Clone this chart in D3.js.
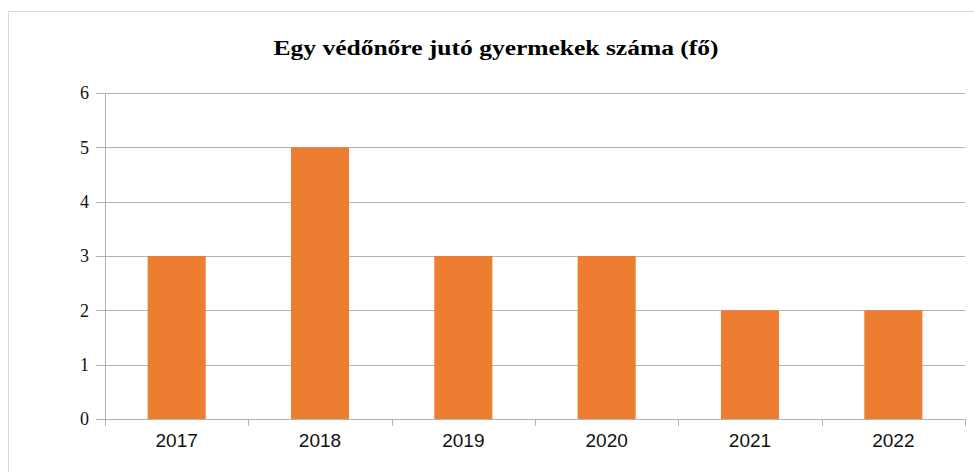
<!DOCTYPE html>
<html>
<head>
<meta charset="utf-8">
<script src="https://cdn.jsdelivr.net/npm/d3@7"></script>
<style>
    body { margin: 0; background: #fff; }
    svg { display: block; }
</style>
</head>
<body>
<div id="chart"></div>
<script>
// Chart data
const title = "Egy védőnőre jutó gyermekek száma (fő)";
const years = ["2017", "2018", "2019", "2020", "2021", "2022"];
const values = [3, 5, 3, 3, 2, 2];
const yTicks = [0, 1, 2, 3, 4, 5, 6];

const width = 974, height = 472;
const margin = { top: 93, right: 9, bottom: 53, left: 105 };
const innerW = width - margin.left - margin.right;
const innerH = height - margin.top - margin.bottom;

const svg = d3.select("#chart")
    .append("svg")
    .attr("width", width)
    .attr("height", height);

// Outer chart frame
svg.append("rect")
    .attr("x", 8.5)
    .attr("y", 11.5)
    .attr("width", 1000)
    .attr("height", 1000)
    .attr("fill", "none")
    .attr("stroke", "#d9d9d9");

// Title (stretched horizontally like the original)
svg.append("text")
    .attr("x", 496)
    .attr("y", 55)
    .attr("text-anchor", "middle")
    .attr("textLength", 445)
    .attr("lengthAdjust", "spacingAndGlyphs")
    .style("font-family", "'Liberation Serif', 'Times New Roman', serif")
    .style("font-weight", "bold")
    .style("font-size", "20px")
    .text(title);

const g = svg.append("g")
    .attr("transform", `translate(${margin.left},${margin.top})`);

// Scales
const x = d3.scaleBand().domain(years).range([0, innerW]).padding(0);
const y = d3.scaleLinear().domain([0, 6]).range([innerH, 0]);

// Gridlines
g.selectAll(".grid")
    .data(yTicks)
    .enter()
    .append("line")
    .attr("class", "grid")
    .attr("x1", -9)
    .attr("x2", innerW)
    .attr("y1", d => Math.round(y(d)) + 0.5)
    .attr("y2", d => Math.round(y(d)) + 0.5)
    .attr("stroke", "#b3b3b3")
    .attr("stroke-width", 1);

// Bars
const barW = x.bandwidth() * 0.405;
g.selectAll(".bar")
    .data(values)
    .enter()
    .append("rect")
    .attr("class", "bar")
    .attr("x", (d, i) => x(years[i]) + (x.bandwidth() - barW) / 2)
    .attr("y", d => y(d))
    .attr("width", barW)
    .attr("height", d => innerH - y(d))
    .attr("fill", "#ed7d31");

// Y axis line
g.append("line")
    .attr("x1", 0.5).attr("x2", 0.5)
    .attr("y1", 0).attr("y2", innerH)
    .attr("stroke", "#b3b3b3");

// X axis: labels centered in categories
const xAxis = d3.axisBottom(x).tickSize(0).tickPadding(14.5);
const xg = g.append("g")
    .attr("transform", `translate(0,${innerH})`)
    .call(xAxis);
xg.select(".domain").remove();
xg.selectAll("text")
    .style("font-family", "'Liberation Sans', 'Open Sans', sans-serif")
    .style("font-size", "19px")
    .attr("fill", "#111");

// Tick marks at category boundaries
const bounds = years.map(d => x(d)).concat([innerW]);
g.selectAll(".xtick")
    .data(bounds)
    .enter()
    .append("line")
    .attr("class", "xtick")
    .attr("x1", d => Math.round(d) + 0.5)
    .attr("x2", d => Math.round(d) + 0.5)
    .attr("y1", innerH)
    .attr("y2", innerH + 7)
    .attr("stroke", "#b3b3b3");

// Y labels
g.selectAll(".ylabel")
    .data(yTicks)
    .enter()
    .append("text")
    .attr("class", "ylabel")
    .attr("x", -16)
    .attr("y", d => y(d))
    .attr("dy", "0.35em")
    .attr("text-anchor", "end")
    .style("font-family", "'Liberation Serif', 'Times New Roman', serif")
    .style("font-size", "18px")
    .attr("fill", "#111")
    .text(d => d);
</script>
</body>
</html>
